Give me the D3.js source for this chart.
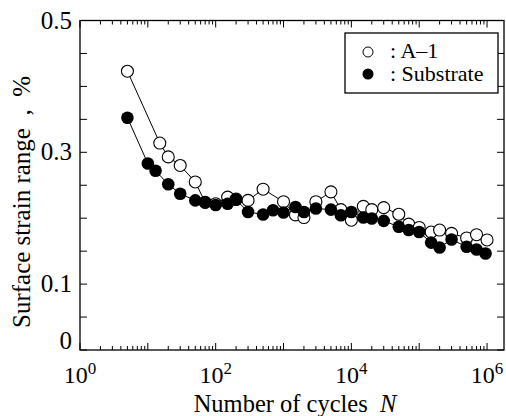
<!DOCTYPE html>
<html>
<head>
<meta charset="utf-8">
<script src="https://cdn.jsdelivr.net/npm/d3@7"></script>
<style>
  body { margin: 0; background: #fff; }
  svg text { font-family: "Liberation Serif", "Times New Roman", serif; fill: #000; }
</style>
</head>
<body>
<div id="chart"></div>
<script>
// cycles N and surface strain range (%)
var cyclesA1 = [5, 15, 20, 30, 50, 70, 100, 150, 200, 300, 500, 1000, 1500, 2000, 3000,
                5000, 7000, 10000, 15000, 20000, 30000, 50000, 70000, 100000, 150000,
                200000, 300000, 500000, 700000, 1000000];
var strainA1 = [0.423, 0.314, 0.293, 0.280, 0.255, 0.224, 0.222, 0.232, 0.229, 0.227, 0.244,
                0.225, 0.205, 0.201, 0.225, 0.240, 0.213, 0.197, 0.218, 0.213, 0.216,
                0.206, 0.191, 0.186, 0.179, 0.182, 0.177, 0.170, 0.175, 0.167];

var cyclesSub = [5, 10, 13, 20, 30, 50, 70, 100, 150, 200, 300, 500, 700, 1000, 1500, 2000,
                 3000, 5000, 7000, 10000, 15000, 20000, 30000, 50000, 70000, 100000,
                 150000, 200000, 300000, 500000, 700000, 950000];
var strainSub = [0.3525, 0.283, 0.272, 0.2515, 0.237, 0.227, 0.224, 0.220, 0.222, 0.228,
                 0.2095, 0.2056, 0.212, 0.2086, 0.217, 0.2095, 0.2147, 0.213, 0.2045,
                 0.2095, 0.201, 0.1995, 0.196, 0.187, 0.182, 0.179, 0.163, 0.1556,
                 0.1677, 0.1566, 0.1525, 0.1465];

var yTicks = [0, 0.1, 0.3, 0.5];
var xTickExps = [0, 2, 4, 6];

var W = 506, H = 416;
var pLeft = 80, pRight = 504, pTop = 20.5, pBottom = 350;

var svg = d3.select("#chart").append("svg")
    .attr("width", W).attr("height", H);

var x = d3.scaleLog().domain([1, Math.pow(10, 6.25)]).range([pLeft, pRight]);
var y = d3.scaleLinear().domain([0, 0.5]).range([pBottom, pTop]);

// frame
svg.append("rect")
    .attr("x", pLeft).attr("y", pTop)
    .attr("width", pRight - pLeft).attr("height", pBottom - pTop)
    .attr("fill", "none").attr("stroke", "#000").attr("stroke-width", 1.3);

// y ticks every 0.05, inward on both sides
var yMinor = d3.range(0, 0.5001, 0.05);
svg.append("g").selectAll("line").data(yMinor).join("line")
    .attr("x1", pLeft).attr("x2", pLeft + 7)
    .attr("y1", d => y(d)).attr("y2", d => y(d))
    .attr("stroke", "#000");
svg.append("g").selectAll("line").data(yMinor).join("line")
    .attr("x1", pRight).attr("x2", pRight - 7)
    .attr("y1", d => y(d)).attr("y2", d => y(d))
    .attr("stroke", "#000");

// x ticks (log), inward on bottom and top
var xAll = [];
for (var e = 0; e < 7; e++) {
    for (var m = 1; m < 10; m++) {
        var v = m * Math.pow(10, e);
        if (v <= x.domain()[1]) xAll.push({v: v, major: m === 1});
    }
}
svg.append("g").selectAll("line").data(xAll).join("line")
    .attr("x1", d => x(d.v)).attr("x2", d => x(d.v))
    .attr("y1", pBottom).attr("y2", d => pBottom - (d.major ? 7 : 4))
    .attr("stroke", "#000");
svg.append("g").selectAll("line").data(xAll).join("line")
    .attr("x1", d => x(d.v)).attr("x2", d => x(d.v))
    .attr("y1", pTop).attr("y2", d => pTop + (d.major ? 7 : 4))
    .attr("stroke", "#000");

// y tick labels
svg.append("g").selectAll("text").data(yTicks).join("text")
    .attr("x", pLeft - 8).attr("y", d => d === 0 ? y(d) - 1 : y(d) + 8)
    .attr("text-anchor", "end")
    .style("font-size", "25px")
    .text(d => d === 0 ? "0" : d.toFixed(1));

// x tick labels 10^n
var xl = svg.append("g").selectAll("text").data(xTickExps).join("text")
    .attr("x", d => x(Math.pow(10, d)))
    .attr("y", 383)
    .attr("text-anchor", "middle")
    .style("font-size", "24px");
xl.append("tspan").text("10");
xl.append("tspan").attr("dy", -9).style("font-size", "17px").text(d => d);

// axis titles
var xt = svg.append("text")
    .attr("x", 295).attr("y", 412)
    .attr("text-anchor", "middle")
    .style("font-size", "24.5px");
xt.append("tspan").text("Number of cycles\u00a0\u00a0");
xt.append("tspan").style("font-style", "italic").text("N");

svg.append("text")
    .attr("transform", "translate(29.5,202) rotate(-90)")
    .attr("text-anchor", "middle")
    .style("font-size", "25px")
    .text("Surface strain range\u2002,\u2002%");

// series
var line = d3.line().x(d => x(d[0])).y(d => y(d[1]));
var dataA1 = cyclesA1.map((c, i) => [c, strainA1[i]]);
var dataSub = cyclesSub.map((c, i) => [c, strainSub[i]]);

svg.append("path").datum(dataA1).attr("d", line)
    .attr("fill", "none").attr("stroke", "#000").attr("stroke-width", 1);
svg.append("path").datum(dataSub).attr("d", line)
    .attr("fill", "none").attr("stroke", "#000").attr("stroke-width", 1);

svg.append("g").selectAll("circle").data(dataA1).join("circle")
    .attr("cx", d => x(d[0])).attr("cy", d => y(d[1])).attr("r", 6)
    .attr("fill", "#fff").attr("stroke", "#000").attr("stroke-width", 1.1);
svg.append("g").selectAll("circle").data(dataSub).join("circle")
    .attr("cx", d => x(d[0])).attr("cy", d => y(d[1])).attr("r", 6.3)
    .attr("fill", "#000");

// legend
var lg = svg.append("g");
lg.append("rect")
    .attr("x", 345).attr("y", 33).attr("width", 153).attr("height", 60)
    .attr("fill", "#fff").attr("stroke", "#000").attr("stroke-width", 1.3);
lg.append("circle").attr("cx", 368).attr("cy", 52).attr("r", 5)
    .attr("fill", "#fff").attr("stroke", "#000");
lg.append("circle").attr("cx", 368).attr("cy", 74).attr("r", 5.5)
    .attr("fill", "#000");
lg.append("text").attr("x", 390).attr("y", 58).style("font-size", "22px").text(": A\u20131");
lg.append("text").attr("x", 390).attr("y", 81).style("font-size", "22px").text(": Substrate");
</script>
</body>
</html>
